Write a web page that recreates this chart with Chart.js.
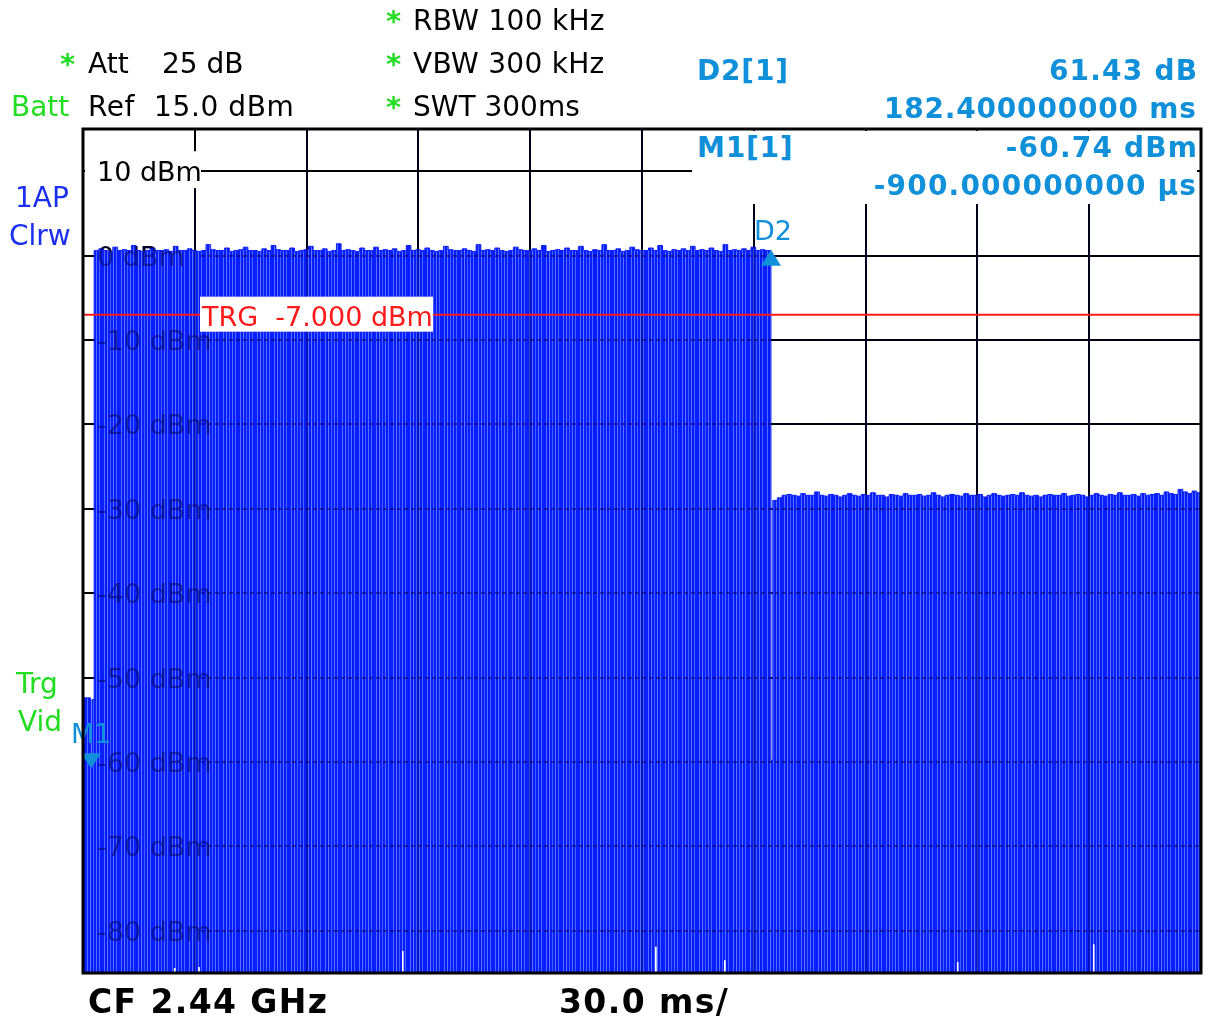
<!DOCTYPE html>
<html>
<head>
<meta charset="utf-8">
<script src="https://cdn.jsdelivr.net/npm/chart.js@4"></script>
<style>
  html,body{margin:0;padding:0;background:#fff;}
  #wrap{position:relative;width:1205px;height:1023px;overflow:hidden;background:#fff;}
  #c{position:absolute;left:0;top:0;}
  .t{position:absolute;white-space:pre;font-family:"DejaVu Sans",Verdana,sans-serif;}
  #mbox{position:absolute;left:692px;top:131px;width:505px;height:73px;background:#fff;}
</style>
</head>
<body>
<div id="wrap">
  <canvas id="c" width="1205" height="1023"></canvas>
  <div id="mbox"></div>
</div>
<script>
// ---------------- data ----------------
const sweepStartMs = 0;
const sweepEndMs = 300;
const levelTopDbm = 15;
const levelBottomDbm = -85;
const timeGridMs = [30, 60, 90, 120, 150, 180, 210, 240, 270];
const levelGridDbm = [10, 0, -10, -20, -30, -40, -50, -60, -70, -80];
const levelTickLabels = ['10 dBm', '0 dBm', '-10 dBm', '-20 dBm', '-30 dBm', '-40 dBm', '-50 dBm', '-60 dBm', '-70 dBm', '-80 dBm'];

// pre-trigger part of the trace (time ms, level dBm)
const preTimes = [0, 2.0, 2.4];
const preLevels = [-52.4, -60.7, -52.6];

// burst (signal on) part of the trace
const burstStartMs = 3.0;
const burstStepMs = 1.25;
const burstLevels = [
  0.6, 0.8, 0.6, 0.5, 1.0, 0.6, 0.7, 0.6, 1.2, 0.6,
  0.5, 0.6, 0.9, 0.6, 0.6, 0.7, 0.5, 1.1, 0.6, 0.6,
  0.8, 0.6, 0.5, 0.6, 1.3, 0.7, 0.6, 0.6, 0.9, 0.5,
  0.6, 0.7, 1.0, 0.6, 0.6, 0.5, 0.8, 0.6, 1.2, 0.7,
  0.6, 0.6, 0.9, 0.5, 0.6, 0.7, 1.1, 0.6, 0.6, 0.8,
  0.5, 0.6, 1.4, 0.6, 0.7, 0.6, 0.5, 0.9, 0.6, 0.6,
  1.0, 0.6, 0.7, 0.6, 0.8, 0.5, 0.6, 1.2, 0.6, 0.7,
  0.6, 0.9, 0.6, 0.5, 0.6, 1.1, 0.7, 0.6, 0.6, 0.8,
  0.6, 0.5, 1.3, 0.6, 0.7, 0.6, 0.9, 0.6, 0.5, 0.6,
  1.0, 0.7, 0.6, 0.6, 0.8, 0.6, 1.2, 0.5, 0.6, 0.7,
  0.6, 0.9, 0.6, 0.6, 1.1, 0.6, 0.5, 0.7, 0.6, 1.3,
  0.6, 0.6, 0.8, 0.5, 0.6, 1.0, 0.7, 0.6, 0.6, 0.9,
  0.6, 1.2, 0.6, 0.5, 0.7, 0.6, 0.8, 0.6, 1.1, 0.6,
  0.7, 0.6, 0.9, 0.6, 0.5, 1.3, 0.6, 0.7, 0.6, 0.8,
  0.6, 1.0, 0.6, 0.7, 0.6, 0.6
];

// dip between burst and idle
const gapTimes = [184.6];
const gapLevels = [-59.8];

// idle (signal lowered) part of the trace
const idleStartMs = 185.1;
const idleStepMs = 1.25;
const idleLevels = [
  -29.0, -28.7, -28.4, -28.3, -28.4, -28.5, -28.2, -28.4, -28.4, -28.0,
  -28.4, -28.5, -28.3, -28.4, -28.6, -28.4, -28.2, -28.4, -28.5, -28.3,
  -28.4, -28.1, -28.4, -28.4, -28.6, -28.3, -28.4, -28.5, -28.2, -28.4,
  -28.4, -28.3, -28.5, -28.4, -28.1, -28.4, -28.6, -28.4, -28.3, -28.4,
  -28.5, -28.2, -28.4, -28.4, -28.3, -28.6, -28.4, -28.2, -28.4, -28.5,
  -28.4, -28.3, -28.4, -28.1, -28.4, -28.5, -28.4, -28.6, -28.4, -28.3,
  -28.4, -28.4, -28.2, -28.5, -28.4, -28.3, -28.4, -28.6, -28.4, -28.2,
  -28.4, -28.5, -28.3, -28.4, -28.1, -28.4, -28.4, -28.3, -28.5, -28.2,
  -28.4, -28.3, -28.2, -28.4, -28.0, -28.2, -28.3, -27.7, -28.0, -28.2,
  -27.9, -28.1
];

// columns where the trace minimum stays above the bottom of the screen
const notchTimes = [24.4, 30.9, 85.6, 153.5, 172.0, 234.5, 271.0];
const notchLevels = [-84.4, -84.3, -82.4, -81.9, -83.5, -83.7, -81.6];
const notchWidthMs = 0.45;

// markers
const markerNames = ['M1', 'D2'];
const markerTimes = [2.15, 184.6];
const markerLevels = [-60.74, 0.69];

const triggerLevelDbm = -7;
const triggerLabel = 'TRG  -7.000 dBm';

// ---------------- build points ----------------
const tracePts = [];
preTimes.forEach((t, i) => tracePts.push({x: t, y: preLevels[i]}));
burstLevels.forEach((v, i) => tracePts.push({x: burstStartMs + i * burstStepMs, y: v}));
gapTimes.forEach((t, i) => tracePts.push({x: t, y: gapLevels[i]}));
idleLevels.forEach((v, i) => tracePts.push({x: idleStartMs + i * idleStepMs, y: v}));
tracePts.push({x: sweepEndMs, y: idleLevels[idleLevels.length - 1]});

const minPts = [{x: sweepStartMs, y: levelBottomDbm}];
notchTimes.forEach((t, i) => {
  minPts.push({x: t, y: notchLevels[i]});
  minPts.push({x: t + notchWidthMs, y: levelBottomDbm});
});
minPts.push({x: sweepEndMs, y: levelBottomDbm});

// ---------------- styles ----------------
const FONT = '"DejaVu Sans", Verdana, sans-serif';
const MARKER_BLUE = '#1190da';
const canvas = document.getElementById('c');
const ctx0 = canvas.getContext('2d');
const stripe = document.createElement('canvas');
stripe.width = 17; stripe.height = 4;
(() => {
  const g = stripe.getContext('2d');
  const cols = ['#0a1eff','#0a1eff','#4f6dff','#0a1eff','#0716ee','#5a77ff','#0a1eff','#0a1eff',
                '#4060ff','#0a1eff','#0a1eff','#5272ff','#0818f3','#0a1eff','#4566ff','#0a1eff','#0a1eff'];
  cols.forEach((c, i) => { g.fillStyle = c; g.fillRect(i, 0, 1, 4); });
})();
const bluePattern = ctx0.createPattern(stripe, 'repeat');

// ---------------- plugins ----------------
function labelBox(chart) {
  const a = chart.chartArea, y = chart.scales.y;
  const py = y.getPixelForValue(levelGridDbm[0]);
  return {x0: a.left + 2, x1: a.left + 118, y0: py - 20, y1: py + 17};
}

const underPlugin = {
  id: 'under',
  beforeDatasetsDraw(chart) {
    const {ctx, chartArea: a, scales: {y}} = chart;
    ctx.save();
    const b = labelBox(chart);
    ctx.fillStyle = '#fff';
    ctx.fillRect(b.x0, b.y0, b.x1 - b.x0, b.y1 - b.y0);
    ctx.font = '27px ' + FONT;
    ctx.textBaseline = 'alphabetic';
    ctx.fillStyle = '#000';
    levelGridDbm.forEach((lv, i) => {
      const py = y.getPixelForValue(lv);
      ctx.fillText(levelTickLabels[i], a.left + 14, py + 10);
    });
    ctx.restore();
  },
  afterDatasetsDraw(chart) {
    const {ctx, chartArea: a, scales: {x, y}} = chart;
    const b = labelBox(chart);
    ctx.save();
    ctx.beginPath(); ctx.rect(a.left, a.top, a.width, a.height); ctx.clip();
    // grid showing through the trace
    ctx.strokeStyle = 'rgba(0,0,70,0.5)';
    ctx.lineWidth = 2;
    ctx.setLineDash([4, 3]);
    levelGridDbm.forEach(lv => {
      if (lv > 0) return;
      const py = Math.round(y.getPixelForValue(lv));
      ctx.beginPath(); ctx.moveTo(b.x1, py); ctx.lineTo(a.right, py); ctx.stroke();
    });
    ctx.setLineDash([]);
    ctx.strokeStyle = 'rgba(0,0,70,0.35)';
    timeGridMs.forEach(t => {
      const px = Math.round(x.getPixelForValue(t));
      const yStart = (px >= b.x0 && px <= b.x1) ? b.y1 : a.top;
      ctx.beginPath(); ctx.moveTo(px, yStart); ctx.lineTo(px, a.bottom); ctx.stroke();
    });
    ctx.font = '27px ' + FONT;
    ctx.fillStyle = 'rgba(0,0,70,0.5)';
    levelGridDbm.forEach((lv, i) => {
      if (lv > 0) return;
      ctx.fillText(levelTickLabels[i], a.left + 14, y.getPixelForValue(lv) + 10);
    });
    // trigger line
    const ty = y.getPixelForValue(triggerLevelDbm);
    ctx.strokeStyle = '#ff1a1a';
    ctx.lineWidth = 2;
    ctx.beginPath(); ctx.moveTo(a.left, ty); ctx.lineTo(a.right, ty); ctx.stroke();
    ctx.restore();
    ctx.save();
    ctx.fillStyle = '#fff';
    ctx.fillRect(a.left + 117, ty - 18, 233, 35);
    ctx.fillStyle = '#ff1a1a';
    ctx.font = '27px ' + FONT;
    ctx.fillText(triggerLabel, a.left + 119, ty + 11);
    // markers
    markerNames.forEach((name, i) => {
      const px = x.getPixelForValue(markerTimes[i]);
      const py = y.getPixelForValue(markerLevels[i]);
      ctx.fillStyle = MARKER_BLUE;
      ctx.beginPath();
      if (i === 0) {
        ctx.moveTo(px, py); ctx.lineTo(px - 10, py - 15); ctx.lineTo(px + 10, py - 15);
      } else {
        ctx.moveTo(px, py); ctx.lineTo(px - 10, py + 16); ctx.lineTo(px + 10, py + 16);
      }
      ctx.closePath(); ctx.fill();
      ctx.font = '27px ' + FONT;
      if (i === 0) ctx.fillText(name, px - 20, py - 25);
      else ctx.fillText(name, px - 17, py - 10);
    });
    ctx.restore();
  },
  afterDraw(chart) {
    const {ctx, chartArea: a} = chart;
    ctx.save();
    ctx.strokeStyle = '#000';
    ctx.lineWidth = 3;
    ctx.strokeRect(a.left, a.top, a.right - a.left, a.bottom - a.top);
    ctx.restore();
  }
};

new Chart(ctx0, {
  type: 'line',
  data: {
    datasets: [
      {label: 'trace min', data: minPts, stepped: true, fill: 'start', backgroundColor: '#ffffff',
       borderColor: 'rgba(0,0,0,0)', borderWidth: 0, pointRadius: 0, order: 0},
      {label: 'trace max', data: tracePts, stepped: true, fill: 'start', backgroundColor: bluePattern,
       borderColor: '#0a1eff', borderWidth: 1, pointRadius: 0, order: 1}
    ]
  },
  options: {
    responsive: false,
    animation: false,
    events: [],
    layout: {padding: {left: 83, right: 4, top: 129, bottom: 50}},
    plugins: {legend: {display: false}, tooltip: {enabled: false}},
    scales: {
      x: {type: 'linear', min: sweepStartMs, max: sweepEndMs,
          afterBuildTicks: s => { s.ticks = timeGridMs.map(v => ({value: v})); },
          ticks: {display: false}, border: {display: false},
          grid: {color: '#000', lineWidth: 2, drawTicks: false}},
      y: {type: 'linear', min: levelBottomDbm, max: levelTopDbm,
          afterBuildTicks: s => { s.ticks = levelGridDbm.map(v => ({value: v})); },
          ticks: {display: false}, border: {display: false},
          grid: {color: '#000', lineWidth: 2, drawTicks: false}}
    }
  },
  plugins: [underPlugin]
});

// ---------------- header / footer text ----------------
const GREEN = '#22dd22';
const BLUE = '#1a2ff0';
const texts = [
  // text, x, baseline, size, color, weight, align, letterSpacing
  ['*', 386, 31, 29, GREEN, 'bold', 'left', 0],
  ['RBW 100 kHz', 413, 31, 28, '#000', 'normal', 'left', 0.3],
  ['*', 60, 74, 29, GREEN, 'bold', 'left', 0],
  ['Att', 88, 74, 28, '#000', 'normal', 'left', 0],
  ['25 dB', 162, 74, 28, '#000', 'normal', 'left', 0],
  ['*', 386, 74, 29, GREEN, 'bold', 'left', 0],
  ['VBW 300 kHz', 413, 74, 28, '#000', 'normal', 'left', 0.3],
  ['Batt', 11, 117, 28, GREEN, 'normal', 'left', 0],
  ['Ref  15.0 dBm', 88, 117, 28, '#000', 'normal', 'left', 0.6],
  ['*', 386, 117, 29, GREEN, 'bold', 'left', 0],
  ['SWT 300ms', 413, 117, 28, '#000', 'normal', 'left', 0],
  ['D2[1]', 697, 81, 28, MARKER_BLUE, 'bold', 'left', 0.8],
  ['61.43 dB', 1197, 81, 28, MARKER_BLUE, 'bold', 'right', 1.2],
  ['182.400000000 ms', 1196, 119, 28, MARKER_BLUE, 'bold', 'right', 0.8],
  ['M1[1]', 697, 158, 28, MARKER_BLUE, 'bold', 'left', 0.8],
  ['-60.74 dBm', 1197, 158, 28, MARKER_BLUE, 'bold', 'right', 1.2],
  ['-900.000000000 µs', 1196, 196, 28, MARKER_BLUE, 'bold', 'right', 1.2],
  ['1AP', 15, 208, 28, BLUE, 'normal', 'left', 0],
  ['Clrw', 9, 246, 28, BLUE, 'normal', 'left', 0],
  ['Trg', 16, 694, 28, GREEN, 'normal', 'left', 0],
  ['Vid', 18, 732, 28, GREEN, 'normal', 'left', 0],
  ['CF 2.44 GHz', 88, 1013, 33, '#000', 'bold', 'left', 1.4],
  ['30.0 ms/', 559, 1013, 33, '#000', 'bold', 'left', 1.4]
];
const wrap = document.getElementById('wrap');
texts.forEach(([s, x, base, size, color, weight, align, ls]) => {
  const d = document.createElement('div');
  d.className = 't';
  d.textContent = s;
  d.style.fontSize = size + 'px';
  d.style.lineHeight = size + 'px';
  d.style.color = color;
  d.style.fontWeight = weight;
  d.style.letterSpacing = ls + 'px';
  d.style.top = (base - 0.846 * size).toFixed(1) + 'px';
  if (align === 'right') d.style.right = (1205 - x - ls) + 'px';
  else d.style.left = x + 'px';
  wrap.appendChild(d);
});
</script>
</body>
</html>
